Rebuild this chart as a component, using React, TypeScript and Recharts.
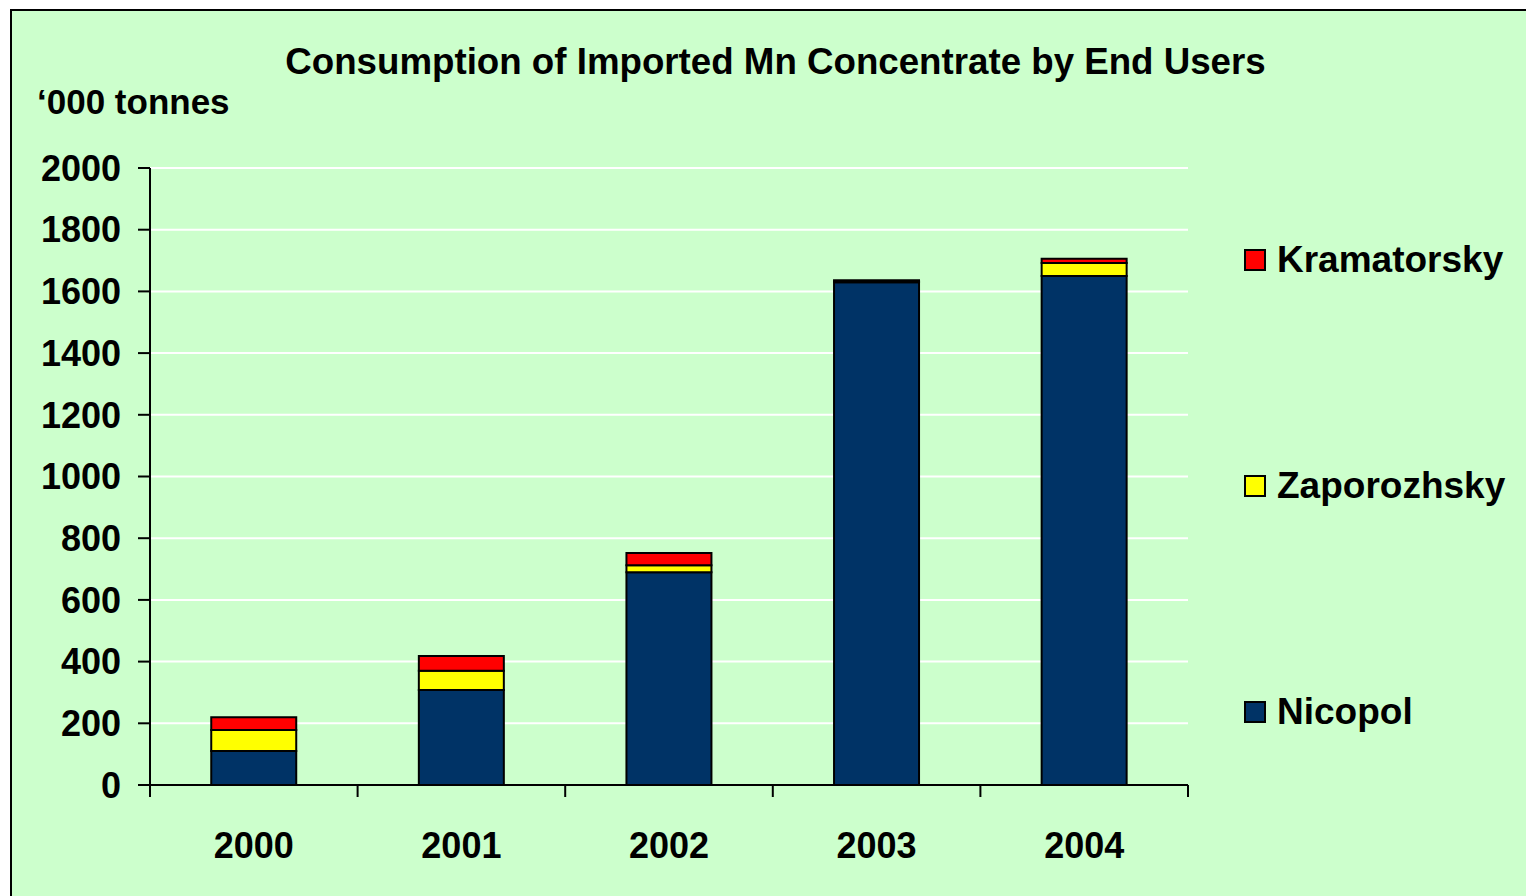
import React from 'react';
import {
  BarChart,
  Bar,
  XAxis,
  YAxis,
  CartesianGrid,
} from 'recharts';

const years = ['2000', '2001', '2002', '2003', '2004'];
const nicopol = [110, 308, 690, 1630, 1650];
const zaporozhsky = [68, 62, 22, 2, 42];
const kramatorsky = [42, 48, 40, 4, 14];
const yTicks = [0, 200, 400, 600, 800, 1000, 1200, 1400, 1600, 1800, 2000];

const series = [
  { key: 'nicopol', name: 'Nicopol', color: '#003366' },
  { key: 'zaporozhsky', name: 'Zaporozhsky', color: '#FFFF00' },
  { key: 'kramatorsky', name: 'Kramatorsky', color: '#FF0000' },
];

const data = years.map((year, i) => ({
  year,
  nicopol: nicopol[i],
  zaporozhsky: zaporozhsky[i],
  kramatorsky: kramatorsky[i],
}));

const FONT = '"Liberation Sans", Arial, sans-serif';

// year label + tick marks on the category boundaries (half a band either side)
const YearTick = ({ x, y, payload, index }: any) => {
  const half = payload?.offset || 0;
  return (
    <g>
      <line x1={x - half} x2={x - half} y1={y} y2={y + 12} stroke="#000" strokeWidth={2} />
      {index === years.length - 1 && (
        <line x1={x + half} x2={x + half} y1={y} y2={y + 12} stroke="#000" strokeWidth={2} />
      )}
      <text
        x={x}
        y={y + 73}
        textAnchor="middle"
        fontSize={36}
        fontWeight="bold"
        fontFamily={FONT}
        fill="#000"
      >
        {payload.value}
      </text>
    </g>
  );
};

// legend listed top-down in reverse stack order, like the stack itself
const LegendBox = () => (
  <div style={{ position: 'absolute', left: 1244, top: 239, fontFamily: FONT }}>
    {[...series].reverse().map((s, i) => (
      <div
        key={s.key}
        style={{
          display: 'flex',
          alignItems: 'center',
          height: 42,
          marginBottom: i < series.length - 1 ? 184 : 0,
        }}
      >
        <span
          style={{
            width: 18,
            height: 18,
            background: s.color,
            border: '2px solid #000',
            marginRight: 11,
          }}
        />
        <span style={{ fontSize: 37, fontWeight: 'bold', color: '#000' }}>{s.name}</span>
      </div>
    ))}
  </div>
);

export default function App() {
  return (
    <div style={{ position: 'absolute', left: 0, top: 0, width: 1526, height: 896, overflow: 'hidden' }}>
      <div
        style={{
          position: 'absolute',
          left: 10,
          top: 9,
          width: 1526,
          height: 900,
          background: '#CCFFCC',
          borderTop: '2px solid #000',
          borderLeft: '2px solid #000',
        }}
      />
      <div
        style={{
          position: 'absolute',
          left: 0,
          width: 1551,
          top: 41,
          textAlign: 'center',
          fontFamily: FONT,
          fontWeight: 'bold',
          fontSize: 36.7,
        }}
      >
        Consumption of Imported Mn Concentrate by End Users
      </div>
      <div
        style={{
          position: 'absolute',
          left: 37,
          top: 82,
          fontFamily: FONT,
          fontWeight: 'bold',
          fontSize: 35,
        }}
      >
        ‘000 tonnes
      </div>
      <div style={{ position: 'absolute', left: 0, top: 0 }}>
        <BarChart
          width={1526}
          height={896}
          data={data}
          margin={{ top: 168, right: 338, left: 0, bottom: 31 }}
          barCategoryGap="29.5%"
        >
          <CartesianGrid vertical={false} stroke="#FFFFFF" strokeWidth={2} />
          <XAxis
            dataKey="year"
            height={80}
            tickLine={false}
            tickSize={0}
            tickMargin={0}
            interval={0}
            axisLine={{ stroke: '#000', strokeWidth: 2 }}
            tick={<YearTick />}
          />
          <YAxis
            width={150}
            domain={[0, 2000]}
            ticks={yTicks}
            interval={0}
            tickSize={12}
            tickMargin={17}
            axisLine={{ stroke: '#000', strokeWidth: 2 }}
            tickLine={{ stroke: '#000', strokeWidth: 2 }}
            tick={{ fontSize: 36, fontWeight: 'bold', fill: '#000', fontFamily: FONT }}
          />
          {series.map((s) => (
            <Bar
              key={s.key}
              dataKey={s.key}
              name={s.name}
              stackId="a"
              fill={s.color}
              stroke="#000"
              strokeWidth={2}
              isAnimationActive={false}
            />
          ))}
        </BarChart>
      </div>
      <LegendBox />
    </div>
  );
}
